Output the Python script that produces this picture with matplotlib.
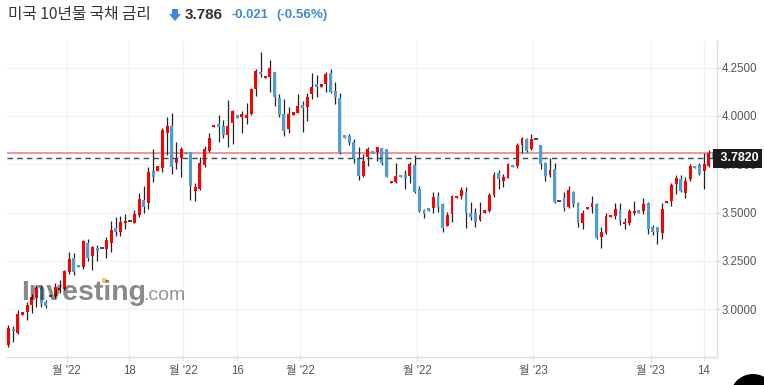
import numpy as np
import matplotlib
matplotlib.use("Agg")
import matplotlib.pyplot as plt
import matplotlib.transforms as mtransforms
from matplotlib.patches import Polygon, Circle, Rectangle

plt.rcParams['font.family'] = ['Liberation Sans', 'Noto Sans CJK KR', 'DejaVu Sans']

# daily candles
opens = [2.816, 2.898, 2.876, 2.971, 2.988, 3.023, 3.057, 3.109, 3.035, 3.069,
         3.069, 3.100, 3.105, 3.195, 3.264, 3.229, 3.221, 3.345, 3.273, 3.317,
         3.316, 3.312, 3.345, 3.419, 3.402, 3.445, 3.457, 3.448, 3.488, 3.566,
         3.548, 3.717, 3.717, 3.733, 3.914, 3.948, 3.755, 3.785, 3.812, 3.814,
         3.614, 3.621, 3.747, 3.821, 3.942, 3.957, 3.950, 3.902, 3.966, 4.005,
         3.997, 3.992, 4.011, 4.140, 4.226, 4.195, 4.204, 4.229, 4.092, 4.009,
         3.931, 4.007, 4.017, 4.055, 4.048, 4.114, 4.166, 4.152, 4.164, 4.224,
         4.129, 4.092, 3.900, 3.897, 3.864, 3.781, 3.692, 3.790, 3.819, 3.816,
         3.833, 3.829, 3.652, 3.661, 3.695, 3.695, 3.692, 3.747, 3.623, 3.514,
         3.523, 3.523, 3.586, 3.545, 3.433, 3.492, 3.574, 3.588, 3.605, 3.500,
         3.500, 3.462, 3.500, 3.510, 3.592, 3.704, 3.666, 3.681, 3.747, 3.742,
         3.850, 3.879, 3.828, 3.881, 3.850, 3.759, 3.695, 3.726, 3.559, 3.574,
         3.528, 3.605, 3.548, 3.448, 3.517, 3.528, 3.545, 3.376, 3.397, 3.476,
         3.485, 3.514, 3.440, 3.445, 3.497, 3.510, 3.510, 3.548, 3.424, 3.424,
         3.393, 3.548, 3.560, 3.647, 3.673, 3.600, 3.674, 3.742, 3.747, 3.716,
         3.742, 3.812]
highs = [2.919, 2.914, 2.997, 2.985, 3.035, 3.078, 3.126, 3.126, 3.048, 3.069,
         3.135, 3.152, 3.203, 3.298, 3.290, 3.229, 3.359, 3.362, 3.328, 3.333,
         3.316, 3.376, 3.459, 3.476, 3.480, 3.492, 3.457, 3.514, 3.600, 3.638,
         3.738, 3.828, 3.742, 3.936, 3.993, 4.017, 3.867, 3.842, 3.812, 3.816,
         3.655, 3.786, 3.845, 3.910, 3.954, 4.005, 3.979, 4.083, 4.031, 4.005,
         4.026, 4.066, 4.143, 4.242, 4.333, 4.207, 4.290, 4.229, 4.112, 4.086,
         4.048, 4.021, 4.112, 4.078, 4.117, 4.221, 4.212, 4.166, 4.229, 4.242,
         4.174, 4.117, 3.900, 3.907, 3.879, 3.842, 3.802, 3.842, 3.819, 3.842,
         3.836, 3.831, 3.664, 3.755, 3.695, 3.721, 3.760, 3.798, 3.638, 3.517,
         3.523, 3.609, 3.605, 3.548, 3.505, 3.592, 3.586, 3.635, 3.631, 3.557,
         3.523, 3.554, 3.514, 3.600, 3.712, 3.721, 3.700, 3.759, 3.747, 3.862,
         3.893, 3.885, 3.905, 3.881, 3.850, 3.764, 3.785, 3.755, 3.559, 3.609,
         3.638, 3.612, 3.554, 3.514, 3.528, 3.586, 3.552, 3.424, 3.500, 3.488,
         3.548, 3.552, 3.471, 3.517, 3.562, 3.510, 3.574, 3.554, 3.436, 3.428,
         3.552, 3.560, 3.652, 3.695, 3.695, 3.686, 3.750, 3.742, 3.759, 3.810,
         3.824, 3.821]
lows = [2.807, 2.833, 2.873, 2.971, 2.945, 2.983, 3.014, 3.014, 3.005, 3.069,
        3.057, 3.083, 3.102, 3.183, 3.178, 3.217, 3.207, 3.252, 3.204, 3.252,
        3.316, 3.264, 3.295, 3.381, 3.381, 3.414, 3.457, 3.445, 3.476, 3.497,
        3.517, 3.660, 3.717, 3.712, 3.798, 3.698, 3.724, 3.683, 3.802, 3.566,
        3.562, 3.617, 3.735, 3.814, 3.942, 3.867, 3.885, 3.842, 3.854, 3.992,
        3.910, 3.959, 4.005, 4.104, 4.200, 4.195, 4.126, 4.054, 3.993, 3.898,
        3.910, 4.007, 4.014, 3.919, 3.976, 4.086, 4.100, 4.152, 4.123, 4.121,
        4.062, 3.804, 3.888, 3.850, 3.759, 3.669, 3.683, 3.743, 3.807, 3.769,
        3.747, 3.684, 3.652, 3.652, 3.683, 3.621, 3.652, 3.600, 3.502, 3.471,
        3.510, 3.500, 3.505, 3.402, 3.431, 3.454, 3.574, 3.569, 3.423, 3.462,
        3.428, 3.459, 3.500, 3.505, 3.583, 3.621, 3.631, 3.678, 3.735, 3.729,
        3.807, 3.816, 3.824, 3.881, 3.724, 3.666, 3.683, 3.552, 3.559, 3.509,
        3.523, 3.531, 3.424, 3.416, 3.517, 3.497, 3.364, 3.319, 3.390, 3.476,
        3.466, 3.436, 3.416, 3.436, 3.488, 3.500, 3.493, 3.390, 3.385, 3.336,
        3.362, 3.548, 3.536, 3.597, 3.609, 3.574, 3.666, 3.729, 3.695, 3.621,
        3.738, 3.776]
closes = [2.902, 2.885, 2.976, 2.985, 3.023, 3.061, 3.112, 3.031, 3.017, 3.069,
          3.117, 3.112, 3.200, 3.262, 3.195, 3.217, 3.354, 3.267, 3.321, 3.304,
          3.316, 3.359, 3.411, 3.402, 3.454, 3.457, 3.457, 3.493, 3.569, 3.531,
          3.712, 3.686, 3.742, 3.928, 3.948, 3.738, 3.781, 3.829, 3.802, 3.643,
          3.631, 3.755, 3.829, 3.885, 3.954, 3.945, 3.902, 3.948, 4.026, 3.992,
          4.011, 4.005, 4.140, 4.233, 4.216, 4.207, 4.247, 4.100, 4.005, 3.924,
          4.009, 4.021, 4.052, 4.043, 4.097, 4.148, 4.152, 4.166, 4.217, 4.126,
          4.100, 3.807, 3.888, 3.862, 3.776, 3.692, 3.767, 3.829, 3.807, 3.838,
          3.759, 3.686, 3.664, 3.690, 3.683, 3.681, 3.752, 3.609, 3.510, 3.492,
          3.510, 3.579, 3.531, 3.423, 3.488, 3.586, 3.586, 3.617, 3.500, 3.479,
          3.450, 3.488, 3.514, 3.592, 3.695, 3.673, 3.686, 3.752, 3.735, 3.850,
          3.888, 3.821, 3.881, 3.881, 3.752, 3.692, 3.721, 3.557, 3.559, 3.526,
          3.617, 3.543, 3.445, 3.500, 3.528, 3.548, 3.367, 3.398, 3.483, 3.488,
          3.517, 3.457, 3.454, 3.510, 3.509, 3.500, 3.545, 3.416, 3.398, 3.402,
          3.517, 3.560, 3.643, 3.681, 3.614, 3.664, 3.742, 3.729, 3.700, 3.752,
          3.807, 3.782]

prev_close = 3.807
last_price = 3.782

xtick_pos = [12.5, 25.9, 37.5, 49.0, 62.5, 87.6, 112.4, 137.6, 149.0]
xtick_labels = ["월 '22", "18", "월 '22", "16", "월 '22", "월 '22", "월 '23", "월 '23", "14"]
yticks = [3.0, 3.25, 3.5, 3.75, 4.0, 4.25]

UP = '#ff0000'
DOWN = '#4a9fd8'

o = np.array(opens); h = np.array(highs); l = np.array(lows); c = np.array(closes)
x = np.arange(len(o))

W, H = 764, 385
fig = plt.figure(figsize=(W / 100, H / 100), dpi=100)
ax = fig.add_axes([7 / W, 28 / H, (716.7 - 7) / W, (357 - 41) / H])

ax.set_xlim(-0.3, 151.7)
ax.set_ylim(2.753, 4.388)

# grid
for yv in yticks:
    ax.axhline(yv, color='#f1f1f1', lw=1, zorder=0)
for xv in xtick_pos:
    ax.axvline(xv, color='#f1f1f1', lw=1, zorder=0)

# candles
up = c > o
down = c < o
doji = c == o
ax.vlines(x[~doji], l[~doji], h[~doji], color='#222222', lw=0.9, zorder=2)
body_lo = np.minimum(o, c)
body_h = np.maximum(np.abs(c - o), 0.011)
ax.bar(x[up], body_h[up], bottom=body_lo[up], width=0.62, color=UP, lw=0, zorder=3)
ax.bar(x[down], body_h[down], bottom=body_lo[down], width=0.62, color=DOWN, lw=0, zorder=3)
ax.hlines(c[doji], x[doji] - 0.4, x[doji] + 0.4, color='#222222', lw=1.2, zorder=3)

# reference lines
ax.axhline(prev_close, color='#f19595', lw=1.4, zorder=1)
ax.axhline(last_price, color='#444444', lw=1, ls=(0, (4, 3)), zorder=4)

# axes styling
for s in ['top', 'left']:
    ax.spines[s].set_visible(False)
for s in ['bottom', 'right']:
    ax.spines[s].set_color('#dddddd')
    ax.spines[s].set_linewidth(1)
ax.yaxis.tick_right()
ax.set_yticks(yticks)
ax.set_yticklabels([f'{v:.4f}' for v in yticks])
ax.tick_params(axis='y', length=2.2, pad=1.5, color='#cccccc', labelcolor='#555555', labelsize=8.3)
ax.set_xticks(xtick_pos)
ax.set_xticklabels(xtick_labels)
ax.tick_params(axis='x', length=3, pad=3, color='#dddddd', labelcolor='#555555', labelsize=8.3)

# last price box
trans = mtransforms.blended_transform_factory(ax.transAxes, ax.transData)
ax.text(1.0, last_price, ' 3.7820', transform=trans, ha='left', va='center',
        color='white', fontsize=9, fontweight='bold', zorder=10, clip_on=False,
        bbox=dict(boxstyle='square,pad=0.28', fc='#1c1c1c', ec='none'))

# watermark
fig.text(21 / W, (H - 300) / H, 'Investing', fontsize=20.5, fontweight='bold',
         color='black', alpha=0.46, va='baseline', ha='left')
fig.text(143 / W, (H - 300) / H, '.com', fontsize=14, color='black', alpha=0.42,
         va='baseline', ha='left')
fig.patches.append(Rectangle((102, H - 283), 5, 5, transform=None, fc='#f5c26b',
                             ec='none', alpha=0.9))

# header
fig.text(8 / W, (H - 15) / H, '미국 10년물 국채 금리', fontsize=11.3, color='#333333',
         va='center', ha='left', family=['Noto Sans CJK KR', 'DejaVu Sans'])
arrow = [(172, H - 9), (178, H - 9), (178, H - 14), (181, H - 14), (175, H - 21),
         (169, H - 14), (172, H - 14)]
fig.patches.append(Polygon(arrow, closed=True, transform=None, fc='#3b8ad9', ec='none'))
fig.text(185 / W, (H - 15) / H, '3.786', fontsize=11, fontweight='bold', color='#333333',
         va='center', ha='left')
fig.text(231 / W, (H - 15) / H, '-0.021', fontsize=9.4, fontweight='bold', color='#3b8ad9',
         va='center', ha='left')
fig.text(276 / W, (H - 15) / H, '(-0.56%)', fontsize=9.6, fontweight='bold', color='#3b8ad9',
         va='center', ha='left')

# corner button
fig.patches.append(Circle((753, -12), 23, transform=None, fc='black', ec='none'))

fig.savefig('out.png', dpi=100)
